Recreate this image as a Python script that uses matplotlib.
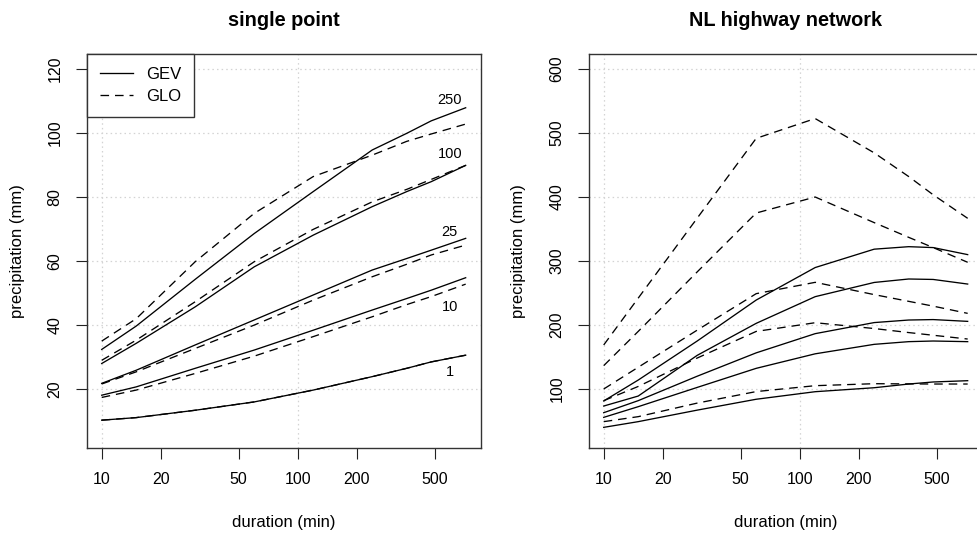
import matplotlib
matplotlib.use("Agg")
import matplotlib.pyplot as plt
from matplotlib.lines import Line2D

plt.rcParams['font.family'] = ['Liberation Sans', 'DejaVu Sans']

# Durations (minutes)
durations = [10, 15, 30, 60, 120, 240, 360, 480, 720]
return_periods = [1, 10, 25, 100, 250]

# Single point: precipitation (mm) per return period
gev_sp_1 = [10.3, 11.1, 13.4, 16.0, 19.7, 23.9, 26.5, 28.5, 30.6]
glo_sp_1 = [10.3, 11.1, 13.4, 16.0, 19.7, 23.9, 26.5, 28.5, 30.6]
gev_sp_10 = [18.1, 20.7, 26.5, 32.2, 38.4, 44.7, 48.3, 50.9, 54.8]
glo_sp_10 = [17.4, 19.7, 24.9, 30.3, 36.4, 42.6, 46.4, 48.9, 52.8]
gev_sp_25 = [21.8, 25.9, 33.8, 41.6, 49.4, 57.2, 60.8, 63.4, 67.1]
glo_sp_25 = [21.6, 25.4, 32.7, 40.0, 47.8, 55.1, 59.0, 61.9, 65.0]
gev_sp_100 = [28.0, 34.3, 45.7, 58.2, 68.1, 77.0, 81.7, 84.8, 89.9]
glo_sp_100 = [29.0, 35.3, 47.3, 59.8, 69.9, 78.5, 82.4, 85.5, 89.9]
gev_sp_250 = [32.4, 39.7, 54.3, 68.6, 81.7, 94.7, 99.9, 103.8, 107.9]
glo_sp_250 = [35.0, 42.0, 59.8, 74.9, 86.4, 93.1, 97.4, 99.7, 102.8]

# NL highway network: precipitation (mm) per return period
gev_nl_1 = [40.1, 49.0, 67.0, 84.0, 95.8, 102.0, 107.8, 111.0, 113.0]
glo_nl_1 = [49.0, 56.8, 78.0, 96.0, 105.2, 108.3, 108.0, 107.8, 107.8]
gev_nl_10 = [55.7, 72.4, 102.5, 132.3, 155.0, 169.8, 174.0, 175.0, 174.0]
glo_nl_10 = [81.8, 104.0, 148.4, 190.0, 203.6, 194.5, 188.2, 184.0, 178.1]
gev_nl_25 = [63.0, 81.8, 120.0, 156.5, 186.5, 203.8, 207.8, 208.5, 205.7]
glo_nl_25 = [100.0, 134.0, 192.0, 249.0, 266.7, 247.5, 237.0, 229.5, 218.2]
gev_nl_100 = [73.4, 89.0, 152.6, 202.6, 244.3, 266.5, 271.9, 271.2, 264.0]
glo_nl_100 = [136.5, 190.0, 283.0, 375.0, 400.0, 360.0, 337.0, 321.0, 298.0]
gev_nl_250 = [81.3, 114.0, 175.0, 239.0, 289.8, 318.5, 322.4, 321.0, 310.0]
glo_nl_250 = [168.8, 242.0, 367.0, 491.7, 522.6, 469.0, 432.0, 403.5, 366.7]

# Return-period labels on the single-point panel
label_texts = ['250', '100', '25', '10', '1']
label_duration = 598
label_values = [110.3, 93.4, 69.2, 45.7, 25.3]

x_ticks = [10, 20, 50, 100, 200, 500]
sp_yticks = [20, 40, 60, 80, 100, 120]
nl_yticks = [100, 200, 300, 400, 500, 600]

W, H = 977, 536
fig = plt.figure(figsize=(W / 100, H / 100), dpi=100)

ax_l = fig.add_axes([87.3 / W, 1 - 447.7 / H, 393.4 / W, 393.4 / H])
ax_r = fig.add_axes([589.3 / W, 1 - 447.7 / H, 393.4 / W, 393.4 / H])

solid = dict(color='black', lw=0.95, solid_joinstyle='miter')
dashed = dict(color='black', lw=0.95, linestyle=(0, (6.5, 4.5)))

sp_gev = [gev_sp_1, gev_sp_10, gev_sp_25, gev_sp_100, gev_sp_250]
sp_glo = [glo_sp_1, glo_sp_10, glo_sp_25, glo_sp_100, glo_sp_250]
nl_gev = [gev_nl_1, gev_nl_10, gev_nl_25, gev_nl_100, gev_nl_250]
nl_glo = [glo_nl_1, glo_nl_10, glo_nl_25, glo_nl_100, glo_nl_250]

for ax, gev, glo in ((ax_l, sp_gev, sp_glo), (ax_r, nl_gev, nl_glo)):
    for g in gev:
        ax.plot(durations, g, **solid, zorder=3)
    for g in glo:
        ax.plot(durations, g, **dashed, zorder=3)

for ax, yt, ylim in ((ax_l, sp_yticks, (1.7, 124.6)), (ax_r, nl_yticks, (8.3, 623.0))):
    ax.set_xscale('log')
    ax.set_xlim(10 ** 0.9265, 10 ** 2.934)
    ax.set_ylim(*ylim)
    ax.set_xticks(x_ticks)
    ax.set_xticklabels([str(t) for t in x_ticks])
    ax.minorticks_off()
    ax.set_yticks(yt)
    ax.set_yticklabels([str(t) for t in yt], rotation=90, va='center')
    ax.tick_params(axis='both', length=7.7, width=0.8, color='#222222',
                   labelsize=11.5, direction='out')
    ax.tick_params(axis='x', pad=9.5)
    ax.tick_params(axis='y', pad=10)
    for sp in ax.spines.values():
        sp.set_linewidth(1.0)
        sp.set_color('#333333')
    # dotted reference grid at decades and y ticks
    for xv in (10, 100):
        ax.axvline(xv, color='#d3d3d3', lw=0.9, linestyle=(0, (1.2, 2.5)), zorder=1)
    for yv in yt:
        ax.axhline(yv, color='#d3d3d3', lw=0.9, linestyle=(0, (1.2, 2.5)), zorder=1)

for txt, yv in zip(label_texts, label_values):
    ax_l.text(label_duration, yv, txt, ha='center', va='center', fontsize=10.5)

handles = [Line2D([], [], **solid), Line2D([], [], **dashed)]
leg = ax_l.legend(handles, ['GEV', 'GLO'], loc='upper left', bbox_to_anchor=(0, 1),
                  borderaxespad=0, fancybox=False, edgecolor='#333333', framealpha=1,
                  fontsize=12, handlelength=2.0, handletextpad=0.8,
                  labelspacing=0.45, borderpad=0.75)
leg.get_frame().set_linewidth(1.0)

# Titles and axis labels
fig.text(284 / W, 1 - 20 / H, 'single point', ha='center', va='center',
         fontsize=14.3, fontweight='bold')
fig.text(786 / W, 1 - 20 / H, 'NL highway network', ha='center', va='center',
         fontsize=14.3, fontweight='bold')
for xc in (284, 786):
    fig.text(xc / W, 1 - 523 / H, 'duration (min)', ha='center', va='center', fontsize=12)
for xc in (17.5, 518.5):
    fig.text(xc / W, 1 - 251 / H, 'precipitation (mm)', ha='center', va='center',
             fontsize=12, rotation=90)

fig.savefig('out.png', dpi=100)
